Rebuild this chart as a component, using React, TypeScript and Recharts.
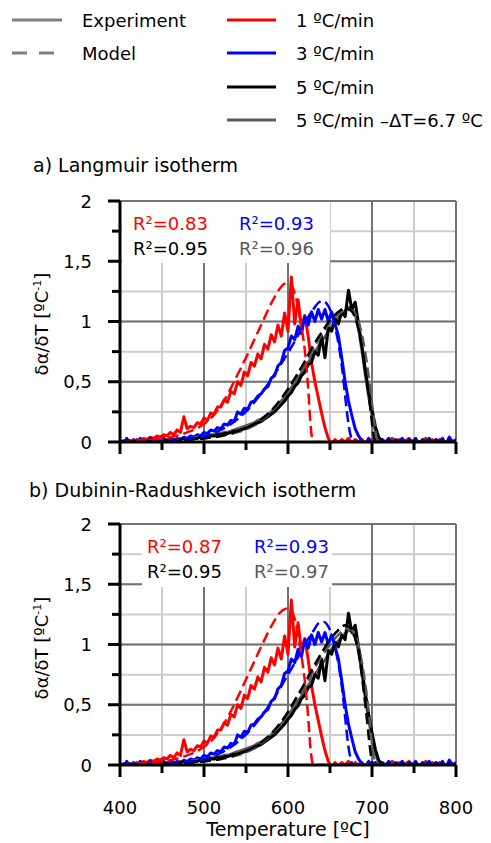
import React from 'react';
import { LineChart, Line, XAxis, YAxis, CartesianGrid } from 'recharts';

const FONT = '"DejaVu Sans", Verdana, sans-serif';

// sampling grid of the experimental curves (°C)
const expTemps = Array.from({ length: 101 }, (_, i) => 400 + 4 * i);

// Experiment, 1 °C/min
const exp1 = [
  0.01, 0.00, 0.02, 0.01, 0.00, 0.02, 0.01, 0.03, 0.02, 0.04,
  0.03, 0.05, 0.04, 0.06, 0.05, 0.08, 0.06, 0.10, 0.08, 0.21,
  0.11, 0.13, 0.12, 0.16, 0.15, 0.20, 0.18, 0.24, 0.23, 0.29,
  0.29, 0.35, 0.33, 0.42, 0.40, 0.50, 0.47, 0.58, 0.55, 0.66,
  0.63, 0.73, 0.69, 0.81, 0.77, 0.89, 0.83, 0.97, 0.88, 1.07,
  0.92, 1.37, 0.98, 1.18, 0.95, 1.05, 0.88, 0.66, 0.50, 0.37,
  0.24, 0.12, 0.03, -0.02, 0.02, -0.01, 0.02, 0.00, 0.03, -0.01,
  0.02, 0.00, 0.02, -0.01, 0.01, 0.02, -0.01, 0.01, 0.02, -0.02,
  0.01, 0.03, 0.00, 0.02, -0.01, 0.01, 0.03, 0.00, 0.02, -0.01,
  0.01, 0.03, 0.00, 0.02, -0.01, 0.02, 0.01, -0.01, 0.02, 0.00,
  0.01,
];

// Experiment, 3 °C/min
const exp3 = [
  0.00, -0.03, 0.03, -0.02, 0.02, -0.03, 0.03, 0.00, -0.02, 0.03,
  0.00, 0.02, -0.02, 0.03, 0.01, 0.02, -0.01, 0.03, 0.02, 0.04,
  0.03, 0.05, 0.04, 0.06, 0.05, 0.08, 0.07, 0.10, 0.09, 0.12,
  0.11, 0.15, 0.14, 0.18, 0.17, 0.25, 0.23, 0.28, 0.27, 0.33,
  0.34, 0.38, 0.40, 0.44, 0.46, 0.53, 0.55, 0.63, 0.66, 0.76,
  0.78, 0.88, 0.85, 0.96, 0.90, 1.04, 0.97, 1.08, 1.00, 1.10,
  1.02, 1.10, 1.00, 1.08, 0.98, 0.88, 0.70, 0.50, 0.34, 0.22,
  0.11, 0.05, 0.01, -0.02, 0.03, -0.03, 0.02, -0.04, 0.02, 0.00,
  0.03, -0.02, 0.02, 0.00, 0.03, -0.01, 0.02, 0.00, 0.03, -0.02,
  0.02, 0.00, 0.03, -0.01, 0.02, 0.00, 0.03, -0.02, 0.04, 0.00,
  0.02,
];

// Experiment, 5 °C/min
const exp5 = [
  0.00, 0.01, 0.00, 0.01, 0.00, 0.01, 0.00, 0.01, 0.01, 0.00,
  0.01, 0.01, 0.01, 0.02, 0.01, 0.02, 0.02, 0.02, 0.02, 0.03,
  0.02, 0.03, 0.03, 0.03, 0.04, 0.04, 0.04, 0.05, 0.05, 0.06,
  0.06, 0.07, 0.07, 0.08, 0.09, 0.09, 0.10, 0.11, 0.12, 0.13,
  0.14, 0.16, 0.17, 0.19, 0.21, 0.23, 0.25, 0.28, 0.31, 0.34,
  0.38, 0.41, 0.46, 0.49, 0.55, 0.58, 0.64, 0.66, 0.75, 0.72,
  0.88, 0.70, 0.95, 0.92, 1.02, 0.98, 1.08, 1.04, 1.26, 1.10,
  1.16, 0.98, 0.80, 0.60, 0.42, 0.27, 0.13, 0.04, 0.01, 0.00,
  0.01, -0.01, 0.01, 0.00, 0.01, -0.01, 0.01, 0.00, 0.01, -0.01,
  0.01, 0.00, 0.01, -0.01, 0.01, 0.00, 0.01, -0.01, 0.01, 0.00,
  0.00,
];

// Experiment, 5 °C/min - ΔT = 6.7 °C
const exp5dT = [
  0.00, 0.00, 0.00, 0.00, 0.01, 0.00, 0.01, 0.01, 0.01, 0.01,
  0.01, 0.01, 0.01, 0.02, 0.02, 0.02, 0.02, 0.02, 0.03, 0.03,
  0.03, 0.03, 0.04, 0.04, 0.04, 0.05, 0.05, 0.06, 0.06, 0.07,
  0.07, 0.08, 0.08, 0.09, 0.10, 0.11, 0.12, 0.13, 0.14, 0.15,
  0.16, 0.18, 0.19, 0.21, 0.23, 0.25, 0.28, 0.31, 0.34, 0.37,
  0.41, 0.45, 0.49, 0.53, 0.57, 0.62, 0.66, 0.70, 0.75, 0.79,
  0.84, 0.87, 0.92, 0.96, 1.00, 1.03, 1.06, 1.09, 1.12, 1.11,
  1.06, 0.94, 0.76, 0.56, 0.38, 0.22, 0.09, 0.02, 0.00, 0.00,
  0.00, 0.00, 0.00, 0.00, 0.00, 0.00, 0.00, 0.00, 0.00, 0.00,
  0.00, 0.00, 0.00, 0.00, 0.00, 0.00, 0.00, 0.00, 0.00, 0.00,
  0.00,
];

// Model curves, a) Langmuir
const modelRedT = [400, 420, 440, 460, 480, 500, 510, 520, 530, 540, 550, 560, 570, 580, 590, 595, 600, 605, 610, 615, 620, 624, 627, 629, 630, 700, 800];
const modelRedA = [0.00, 0.01, 0.02, 0.04, 0.08, 0.15, 0.21, 0.30, 0.42, 0.56, 0.70, 0.85, 1.00, 1.15, 1.27, 1.31, 1.32, 1.29, 1.18, 1.00, 0.76, 0.45, 0.13, 0.02, 0.00, 0.00, 0.00];
const modelBlueT = [400, 440, 480, 500, 520, 540, 560, 580, 590, 600, 610, 620, 630, 637, 642, 646, 650, 655, 660, 665, 669, 672, 675, 677, 700, 800];
const modelBlueA = [0.00, 0.01, 0.03, 0.05, 0.10, 0.19, 0.33, 0.52, 0.63, 0.74, 0.86, 0.99, 1.10, 1.16, 1.17, 1.15, 1.10, 0.98, 0.82, 0.58, 0.32, 0.15, 0.04, 0.00, 0.00, 0.00];
const modelBlackAT = [400, 440, 480, 500, 520, 540, 560, 580, 600, 610, 620, 630, 640, 650, 660, 668, 675, 680, 685, 690, 694, 698, 701, 703, 704, 800];
const modelBlackA = [0.00, 0.01, 0.02, 0.03, 0.05, 0.09, 0.15, 0.26, 0.44, 0.55, 0.67, 0.80, 0.91, 1.01, 1.08, 1.11, 1.09, 1.03, 0.90, 0.70, 0.50, 0.28, 0.10, 0.02, 0.00, 0.00];
const modelGrayAT = [400, 440, 480, 500, 520, 540, 560, 580, 600, 620, 640, 660, 670, 678, 684, 690, 695, 700, 704, 706, 707, 800];
const modelGrayA = [0.00, 0.01, 0.02, 0.03, 0.05, 0.08, 0.14, 0.25, 0.42, 0.65, 0.89, 1.06, 1.10, 1.08, 1.00, 0.82, 0.60, 0.32, 0.10, 0.02, 0.00, 0.00];

// Model curves, b) Dubinin-Radushkevich
const modelRedB = [0.00, 0.01, 0.02, 0.04, 0.08, 0.15, 0.21, 0.30, 0.42, 0.56, 0.71, 0.86, 1.01, 1.15, 1.26, 1.29, 1.30, 1.27, 1.15, 0.95, 0.70, 0.40, 0.12, 0.02, 0.00, 0.00, 0.00];
const modelBlueB = [0.00, 0.01, 0.03, 0.05, 0.10, 0.19, 0.33, 0.52, 0.63, 0.75, 0.87, 1.00, 1.11, 1.18, 1.19, 1.17, 1.12, 1.00, 0.84, 0.60, 0.33, 0.15, 0.04, 0.00, 0.00, 0.00];
const modelBlackBT = [400, 440, 480, 500, 520, 540, 560, 580, 600, 610, 620, 630, 640, 650, 660, 668, 674, 680, 685, 689, 693, 696, 698, 700, 701, 800];
const modelBlackB = [0.00, 0.01, 0.02, 0.03, 0.05, 0.09, 0.15, 0.26, 0.44, 0.56, 0.68, 0.81, 0.93, 1.04, 1.12, 1.16, 1.14, 1.05, 0.90, 0.68, 0.44, 0.24, 0.12, 0.03, 0.00, 0.00];
const modelGrayBT = [400, 440, 480, 500, 520, 540, 560, 580, 600, 620, 640, 660, 670, 676, 682, 688, 693, 697, 700, 702, 703, 800];
const modelGrayB = [0.00, 0.01, 0.02, 0.03, 0.05, 0.08, 0.14, 0.25, 0.42, 0.65, 0.90, 1.08, 1.13, 1.12, 1.04, 0.85, 0.62, 0.38, 0.18, 0.05, 0.00, 0.00];

const xTicks = [400, 450, 500, 550, 600, 650, 700, 750, 800];
const xMajor = [400, 500, 600, 700, 800];
const yTicks = [0, 0.25, 0.5, 0.75, 1, 1.25, 1.5, 1.75, 2];
const yMajor = [0, 0.5, 1, 1.5, 2];
const yLabels: Record<string, string> = { '0': '0', '0.5': '0,5', '1': '1', '1.5': '1,5', '2': '2' };

const rateLabels = ['1 ºC/min', '3 ºC/min', '5 ºC/min', '5 ºC/min –ΔT=6.7 ºC'];
const r2A = ['R²=0.83', 'R²=0.93', 'R²=0.95', 'R²=0.96'];
const r2B = ['R²=0.87', 'R²=0.93', 'R²=0.95', 'R²=0.97'];

const RED = '#ff0000';
const BLUE = '#0000ff';
const BLACK = '#000000';
const GRAY = '#595959';
const LEGEND_GRAY = '#7f7f7f';

const toPoints = (ts: number[], vs: number[]) => ts.map((T, i) => ({ T, v: vs[i] }));

const expRed = toPoints(expTemps, exp1);
const expBlue = toPoints(expTemps, exp3);
const expBlack = toPoints(expTemps, exp5);
const expGray = toPoints(expTemps, exp5dT);

const XTick = (props: any) => {
  const { x, y, payload, showLabel } = props;
  const v = payload.value;
  const major = v % 100 === 0;
  return (
    <g>
      <line x1={x} x2={x} y1={y} y2={y + (major ? 12 : 8)} stroke="#000" strokeWidth={3} />
      {showLabel && major ? (
        <text x={x} y={y + 49} textAnchor="middle" fontFamily={FONT} fontSize={18} fill="#000">
          {v}
        </text>
      ) : null}
    </g>
  );
};

const YTick = (props: any) => {
  const { x, y, payload } = props;
  const v = payload.value;
  const label = yLabels[String(v)];
  const major = label !== undefined;
  return (
    <g>
      <line x1={x - (major ? 12 : 8)} x2={x} y1={y} y2={y} stroke="#000" strokeWidth={3} />
      {major ? (
        <text x={x - 28} y={y + 6.5} textAnchor="end" fontFamily={FONT} fontSize={18} fill="#000">
          {label}
        </text>
      ) : null}
    </g>
  );
};

type PanelProps = {
  top: number;
  height: number;
  marginTop: number;
  xAxisHeight: number;
  showXLabels: boolean;
  models: { red: any[]; blue: any[]; black: any[]; gray: any[] };
};

const Panel = ({ top, height, marginTop, xAxisHeight, showXLabels, models }: PanelProps) => {
  const mb = height - marginTop - 241 - xAxisHeight;
  const dash = '11 5';
  return (
    <div style={{ position: 'absolute', left: 0, top }}>
      <LineChart width={491} height={height} margin={{ top: marginTop, right: 35, bottom: mb, left: 60 }}>
        <CartesianGrid stroke="#cdcdcd" strokeWidth={2} horizontalValues={yTicks} verticalValues={xTicks} />
        <CartesianGrid stroke="#737373" strokeWidth={2} horizontalValues={yMajor} verticalValues={xMajor} />
        <XAxis
          type="number"
          dataKey="T"
          domain={[400, 800]}
          ticks={xTicks}
          interval={0}
          tickSize={0}
          tickMargin={0}
          tickLine={false}
          height={xAxisHeight}
          axisLine={{ stroke: '#000', strokeWidth: 3 }}
          tick={<XTick showLabel={showXLabels} />}
          allowDataOverflow
        />
        <YAxis
          type="number"
          domain={[0, 2]}
          ticks={yTicks}
          interval={0}
          width={60}
          tickSize={0}
          tickMargin={0}
          tickLine={false}
          axisLine={{ stroke: '#000', strokeWidth: 3 }}
          tick={<YTick />}
          allowDataOverflow
        />
        <Line data={expRed} dataKey="v" type="linear" stroke={RED} strokeWidth={3} strokeLinejoin="round" dot={false} isAnimationActive={false} />
        <Line data={expBlue} dataKey="v" type="linear" stroke={BLUE} strokeWidth={3} strokeLinejoin="round" dot={false} isAnimationActive={false} />
        <Line data={expGray} dataKey="v" type="linear" stroke={GRAY} strokeWidth={3} strokeLinejoin="round" dot={false} isAnimationActive={false} />
        <Line data={expBlack} dataKey="v" type="linear" stroke={BLACK} strokeWidth={3} strokeLinejoin="round" dot={false} isAnimationActive={false} />
        <Line data={models.gray} dataKey="v" type="monotone" stroke={GRAY} strokeWidth={2.5} strokeDasharray={dash} dot={false} isAnimationActive={false} />
        <Line data={models.black} dataKey="v" type="monotone" stroke={BLACK} strokeWidth={2.5} strokeDasharray={dash} dot={false} isAnimationActive={false} />
        <Line data={models.blue} dataKey="v" type="monotone" stroke={BLUE} strokeWidth={2.5} strokeDasharray={dash} dot={false} isAnimationActive={false} />
        <Line data={models.red} dataKey="v" type="monotone" stroke={RED} strokeWidth={2.5} strokeDasharray={dash} dot={false} isAnimationActive={false} />
      </LineChart>
    </div>
  );
};

const R2Box = ({ x, y, w, h, tx1, tx2, ty1, ty2, labels }: any) => (
  <g>
    <rect x={x} y={y} width={w} height={h} fill="#fff" />
    <text x={tx1} y={ty1} fill={RED} fontSize={18}>{labels[0]}</text>
    <text x={tx2} y={ty1} fill={BLUE} fontSize={18}>{labels[1]}</text>
    <text x={tx1} y={ty2} fill={BLACK} fontSize={18}>{labels[2]}</text>
    <text x={tx2} y={ty2} fill={GRAY} fontSize={18}>{labels[3]}</text>
  </g>
);

const YLabel = ({ cx, cy }: { cx: number; cy: number }) => (
  <text transform={`translate(${cx},${cy}) rotate(-90)`} textAnchor="middle" fontSize={18} fill="#000">
    δα/δT [ºC
    <tspan dy={-7} fontSize={11}>-1</tspan>
    <tspan dy={7}>]</tspan>
  </text>
);

export default function App() {
  const modelsA = {
    red: toPoints(modelRedT, modelRedA),
    blue: toPoints(modelBlueT, modelBlueA),
    black: toPoints(modelBlackAT, modelBlackA),
    gray: toPoints(modelGrayAT, modelGrayA),
  };
  const modelsB = {
    red: toPoints(modelRedT, modelRedB),
    blue: toPoints(modelBlueT, modelBlueB),
    black: toPoints(modelBlackBT, modelBlackB),
    gray: toPoints(modelGrayBT, modelGrayB),
  };
  const rateColors = [RED, BLUE, BLACK, GRAY];
  const rowY = [20, 53, 87, 120];
  return (
    <div style={{ position: 'absolute', left: 0, top: 0, width: 491, height: 843, background: '#fff', overflow: 'hidden' }}>
      <Panel top={190} height={280} marginTop={11} xAxisHeight={20} showXLabels={false} models={modelsA} />
      <Panel top={510} height={323} marginTop={14} xAxisHeight={60} showXLabels={true} models={modelsB} />
      <svg width={491} height={843} style={{ position: 'absolute', left: 0, top: 0, pointerEvents: 'none' }} fontFamily={FONT}>
        {/* legend */}
        <line x1={12} x2={62} y1={20} y2={20} stroke={LEGEND_GRAY} strokeWidth={3} />
        <text x={82} y={27} fontSize={18} fill="#000">Experiment</text>
        <line x1={12} x2={62} y1={53} y2={53} stroke={LEGEND_GRAY} strokeWidth={3} strokeDasharray="15 12" />
        <text x={82} y={60} fontSize={18} fill="#000">Model</text>
        {rateLabels.map((lab, i) => (
          <g key={lab}>
            <line x1={227} x2={276} y1={rowY[i]} y2={rowY[i]} stroke={rateColors[i]} strokeWidth={3} />
            <text x={296} y={rowY[i] + 7} fontSize={18} fill="#000">{lab}</text>
          </g>
        ))}
        {/* titles */}
        <text x={33} y={172} fontSize={19} fill="#000">a) Langmuir isotherm</text>
        <text x={29} y={497} fontSize={19} fill="#000">b) Dubinin-Radushkevich isotherm</text>
        {/* y axis labels */}
        <YLabel cx={48} cy={324} />
        <YLabel cx={48} cy={648} />
        {/* x axis label */}
        <text x={288} y={836} textAnchor="middle" fontSize={19} fill="#000">Temperature [ºC]</text>
        {/* R² boxes */}
        <R2Box x={122} y={202} w={208} h={61} tx1={133} tx2={239} ty1={230} ty2={255} labels={r2A} />
        <R2Box x={142} y={525} w={190} h={62} tx1={147} tx2={254} ty1={553} ty2={578} labels={r2B} />
      </svg>
    </div>
  );
}
